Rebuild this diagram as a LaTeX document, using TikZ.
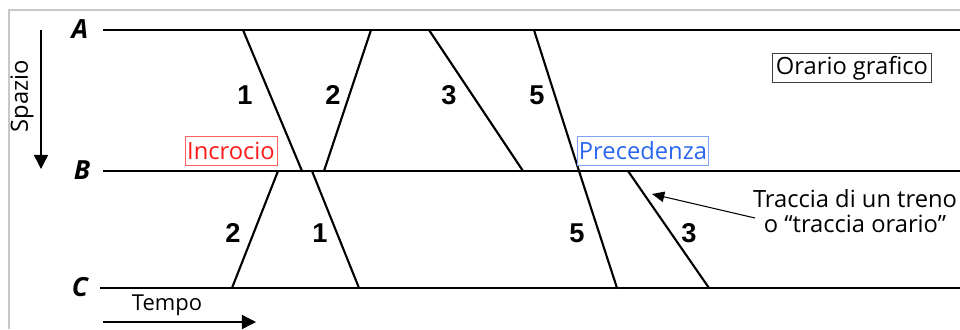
\documentclass[tikz,border=0pt]{standalone}
\usepackage{fontspec}
\setmainfont{Open Sans}
\newfontfamily\numfont{Liberation Sans}
\usepackage{tikz}
\usetikzlibrary{positioning,arrows.meta}
\definecolor{framegray}{HTML}{C8C8C8}
\definecolor{incred}{HTML}{FF1A1A}
\definecolor{precblue}{HTML}{2A66F0}

\tikzset{
  traccia/.style={line width=1.2pt, line cap=round},
  binario/.style={line width=1.2pt},
  numtreno/.style={font=\numfont\bfseries\fontsize{15.5}{15.5}\selectfont},
  stazione/.style={font=\bfseries\itshape\fontsize{15}{15}\selectfont},
  etichetta/.style={font=\fontsize{13.5}{14}\selectfont, inner sep=1pt}
}

\begin{document}
\begin{tikzpicture}[x=0.02cm, y=-0.02cm]
  \useasboundingbox (0,0) rectangle (960,329);
  % Cornice
  \draw[framegray, line width=0.8pt] (960,10) -- (9,10) -- (9,329);

  % Stazioni
  \node[stazione] (A) at (80,29) {A};
  \node[stazione] (B) at (82,170) {B};
  \node[stazione] (C) at (80,287) {C};
  \coordinate (As) at (103,30);  \coordinate (Ae) at (960,30);
  \coordinate (Bs) at (103,171); \coordinate (Be) at (960,171);
  \coordinate (Cs) at (100,288); \coordinate (Ce) at (960,288);
  \draw[binario] (As) -- (Ae);
  \draw[binario] (Bs) -- (Be);
  \draw[binario] (Cs) -- (Ce);

  % Assi spazio / tempo
  \node[rotate=90, font=\fontsize{13.5}{14}\selectfont] (spazio) at (22,96) {Spazio};
  \coordinate (s0) at (41,30);
  \coordinate (s1) at (41,169);
  \draw[line width=0.8pt, -{Triangle[length=8pt,width=8pt]}] (s0) -- (s1);
  \node[font=\fontsize{12.5}{13}\selectfont] (tempo) at (167,305) {Tempo};
  \coordinate (t0) at (103,322);
  \coordinate (t1) at (256,322);
  \draw[line width=0.8pt, -{Triangle[length=8pt,width=8pt]}] (t0) -- (t1);

  % Tracce dei treni
  \coordinate (p1a) at (243,30);  \coordinate (p1b) at (302,171);
  \coordinate (p1c) at (312,171); \coordinate (p1d) at (359,288);
  \coordinate (p2a) at (232,288); \coordinate (p2b) at (278,171);
  \coordinate (p2c) at (324,171); \coordinate (p2d) at (371,30);
  \coordinate (p3a) at (429,30);  \coordinate (p3b) at (523,171);
  \coordinate (p3c) at (628,171); \coordinate (p3d) at (709,288);
  \coordinate (p5a) at (534,30);  \coordinate (p5b) at (579,171);
  \coordinate (p5c) at (617,288);
  \draw[traccia] (p1a) -- (p1b);
  \draw[traccia] (p1c) -- (p1d);
  \draw[traccia] (p2a) -- (p2b);
  \draw[traccia] (p2c) -- (p2d);
  \draw[traccia] (p3a) -- (p3b);
  \draw[traccia] (p3c) -- (p3d);
  \draw[traccia] (p5a) -- (p5b) -- (p5c);

  % Numeri dei treni
  \node[numtreno] (n1a) at (245,95) {1};
  \node[numtreno] (n2a) at (333,95) {2};
  \node[numtreno] (n3a) at (449,95) {3};
  \node[numtreno] (n5a) at (537,95) {5};
  \node[numtreno] (n2b) at (233,233) {2};
  \node[numtreno] (n1b) at (320,233) {1};
  \node[numtreno] (n5b) at (577,233) {5};
  \node[numtreno] (n3b) at (689,233) {3};

  % Etichette
  \node[etichetta, draw=incred!70, text=incred, minimum width=1.84cm, minimum height=0.58cm] (incr) at (231,151) {Incrocio};
  \node[etichetta, draw=precblue!60, text=precblue, minimum width=2.54cm, minimum height=0.58cm] (prec) at (643,151) {Precedenza};
  \node[etichetta, draw=black!75, minimum width=3.18cm, minimum height=0.58cm] (orario) at (852,68) {Orario grafico};
  \node[font=\fontsize{13.5}{14}\selectfont, align=center] (trac) at (855,211) {Traccia di un treno\\o “traccia orario”};
  \coordinate (trs) at (755,218);
  \coordinate (tr3) at (652,194);
  \draw[line width=0.6pt, -{Triangle[length=7pt,width=6pt]}] (trs) -- (tr3);
\end{tikzpicture}
\end{document}
